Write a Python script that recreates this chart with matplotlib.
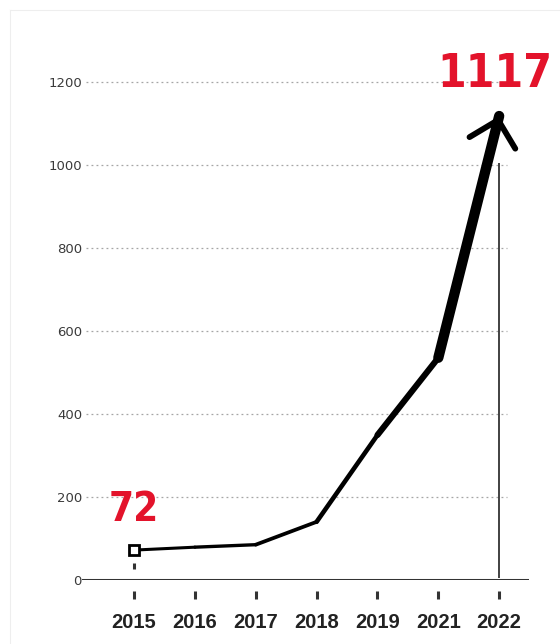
import matplotlib
matplotlib.use("Agg")
import matplotlib.pyplot as plt
from matplotlib import font_manager
from matplotlib.collections import LineCollection
from matplotlib.lines import Line2D
import numpy as np

years = ['2015', '2016', '2017', '2018', '2019', '2021', '2022']
values = [72, 79, 85, 140, 349, 535, 1117]
y_ticks = [0, 200, 400, 600, 800, 1000, 1200]
seg_widths = [2.2, 2.4, 2.7, 3.3, 4.4, 7.4]  # line gets heavier toward the end

red = '#e3132b'
dark = '#222222'

STRETCH_RANK = {'ultra-condensed': 0, 'extra-condensed': 1, 'condensed': 2, 'semi-condensed': 3}


def weight_num(w):
    if isinstance(w, (int, float)):
        return w
    return font_manager.weight_dict.get(w, 400)


def pick_narrow():
    # narrowest upright face with a bold-ish weight, if there is one
    cands = []
    for f in font_manager.fontManager.ttflist:
        if f.style != 'normal':
            continue
        nm = (f.name + ' ' + f.fname).lower()
        if 'italic' in nm or 'oblique' in nm:
            continue
        rank = STRETCH_RANK.get(f.stretch)
        if rank is None and ('narrow' in nm or 'condensed' in nm):
            rank = 1 if 'extra' in nm else 2
            if 'semi' in nm:
                rank = 3
        if rank is None:
            continue
        if 600 <= weight_num(f.weight) <= 800:
            cands.append((rank, abs(weight_num(f.weight) - 700), f))
    if not cands:
        return None
    cands.sort(key=lambda c: (c[0], c[1]))
    return cands[0][2]


narrow = pick_narrow()
if narrow is not None:
    fp72 = font_manager.FontProperties(fname=narrow.fname, size=29)
    fp1117 = font_manager.FontProperties(fname=narrow.fname, size=33)
else:
    fp72 = font_manager.FontProperties(family='DejaVu Sans', weight='bold', size=24)
    fp1117 = font_manager.FontProperties(family='DejaVu Sans', weight='bold', size=27)

fig = plt.figure(figsize=(5.6, 6.44), dpi=100)
ax = fig.add_axes([82 / 560, (644 - 580) / 644, (529 - 82) / 560, (580 - 30) / 644])
ax.set_xlim(-0.855, 6.49)
ax.set_ylim(0, 1324)

x = np.arange(len(years))

# dotted grid
for t in y_ticks[1:]:
    ax.axhline(t, xmin=0.01, xmax=0.95, color='#a5a5a5', lw=0.9, ls=(0, (1.5, 2.5)), zorder=1)

# baseline
ax.axhline(0, color='#333333', lw=2.2, zorder=2)

# vertical marker line at the last year
ax.vlines(x[-1], 5, 1005, color='#333333', lw=1.3, zorder=2)

# main line, thickening
pts = np.column_stack([x, values])
segs = [pts[i:i + 2] for i in range(len(pts) - 1)]
lc = LineCollection(segs, linewidths=seg_widths, colors='black', capstyle='round',
                    joinstyle='round', zorder=4)
ax.add_collection(lc)

# arrow head at the end
ax.annotate('', xy=(x[-1], values[-1]), xytext=(x[-2], values[-2]),
            arrowprops=dict(arrowstyle='->, head_length=0.85, head_width=0.85',
                            mutation_scale=20, lw=4.2, color='black',
                            shrinkA=0, shrinkB=0, capstyle='round'),
            zorder=5)

# start marker
ax.plot(x[0], values[0], marker='s', ms=7, mfc='white', mec='black', mew=2, zorder=6)
ax.plot(x[0], 33, marker='|', ms=5, mew=2.2, color='#333333', clip_on=False, zorder=3)

# value labels
ax.annotate(str(values[0]), (x[0], values[0]), xytext=(0, 29), textcoords='offset points',
            ha='center', va='center', color=red, fontproperties=fp72)
ax.annotate(str(values[-1]), (x[-1], values[-1]), xytext=(-3, 30), textcoords='offset points',
            ha='center', va='center', color=red, fontproperties=fp1117)

# x tick dashes below the baseline
ax.plot(x, [-37] * len(x), ls='none', marker='|', ms=5.5, mew=2.2, color='#333333', clip_on=False)

ax.set_xticks(x)
ax.set_xticklabels(years, fontsize=14.5, fontweight='bold', color=dark,
                   family=['Liberation Sans', 'DejaVu Sans'])
ax.tick_params(axis='x', length=0, pad=24)

ax.set_yticks(y_ticks)
ax.set_yticklabels([str(t) for t in y_ticks], fontsize=9.5, color='#3a3a3a')
ax.tick_params(axis='y', length=0, pad=0)

for s in ax.spines.values():
    s.set_visible(False)

# faint frame of the original picture
fig.add_artist(Line2D([10 / 560, 1], [1 - 10 / 644, 1 - 10 / 644], color='#eeeeee', lw=0.8))
fig.add_artist(Line2D([10 / 560, 10 / 560], [0, 1 - 10 / 644], color='#eeeeee', lw=0.8))

fig.savefig('out.png', dpi=100)
